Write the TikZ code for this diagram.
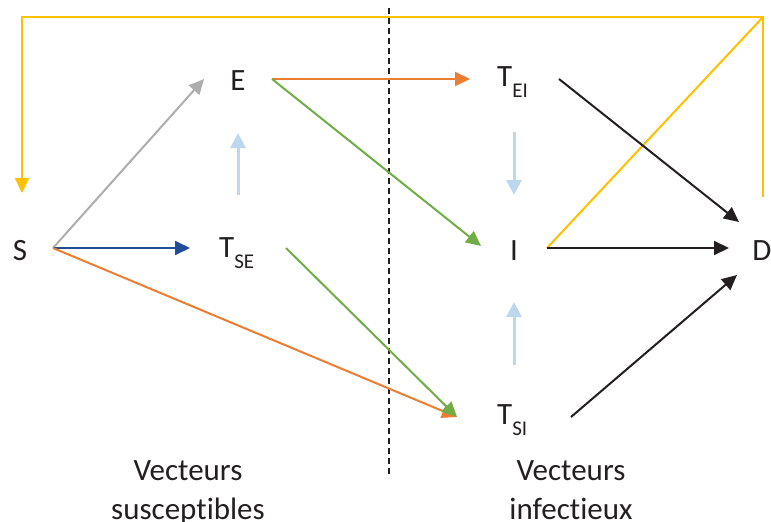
\documentclass[tikz,border=0pt]{standalone}
\usepackage{fontspec}
\setmainfont{Carlito}[Ligatures=NoCommon]
\usetikzlibrary{arrows.meta}
\definecolor{cyellow}{HTML}{FFC000}
\definecolor{corange}{HTML}{ED7D31}
\definecolor{cgreen}{HTML}{70AD47}
\definecolor{cgray}{HTML}{ADADAD}
\definecolor{cblue}{HTML}{1F4E96}
\definecolor{clight}{HTML}{BDD7EE}
\definecolor{cblack}{HTML}{231F20}
\newcommand\subtxt[1]{\raisebox{-11pt}{\fontsize{21}{21}\selectfont #1}}
\begin{document}
\begin{tikzpicture}[x=1pt,y=-1pt,
  lbl/.style={font=\fontsize{31}{39}\selectfont, inner sep=0pt, text=cblack},
  conn/.style={line width=2pt, -{Triangle[length=15pt,width=14pt]}},
  lightarrow/.style={line width=3pt, draw=clight, -{Triangle[length=15pt,width=15pt]}},
  divider/.style={line width=1.5pt, draw=cblack, dash pattern=on 6pt off 4pt}]
\useasboundingbox (0,0) rectangle (771,522);

% nodes
\node[lbl, anchor=base] (S) at (20,260) {S};
\node[lbl, anchor=base] (E) at (238,90) {E};
\node[lbl, anchor=base west] (TSE) at (219,257) {T\subtxt{SE}};
\node[lbl, anchor=base west] (TEI) at (497,86) {T\subtxt{EI}};
\node[lbl, anchor=base] (I) at (514,260) {I};
\node[lbl, anchor=base] (D) at (762,260) {D};
\node[lbl, anchor=base west] (TSI) at (497,424) {T\subtxt{SI}};
\node[lbl, anchor=base, align=center] (VS) at (188,519) {Vecteurs\\susceptibles};
\node[lbl, anchor=base, align=center] (VI) at (571,519) {Vecteurs\\infectieux};

% connector end points
\coordinate (S-out) at (53,248);
\coordinate (S-in) at (22,193);
\coordinate (E-in) at (204,79);
\coordinate (E-out) at (272,79);
\coordinate (E-low) at (238,195);
\coordinate (E-bot) at (238,133);
\coordinate (TSE-in) at (190,248);
\coordinate (TSE-out) at (286,248);
\coordinate (TEI-in) at (470,79);
\coordinate (TEI-out) at (559,79);
\coordinate (TEI-bot) at (514,132);
\coordinate (I-top) at (514,195);
\coordinate (I-in) at (481,246);
\coordinate (I-out) at (547,248);
\coordinate (I-bot) at (514,302);
\coordinate (TSI-top) at (514,365);
\coordinate (TSI-in) at (457,417);
\coordinate (TSI-out) at (571,417);
\coordinate (D-in1) at (739,222);
\coordinate (D-in2) at (729,248);
\coordinate (D-in3) at (737,275);
\coordinate (D-out) at (763,197);
\coordinate (corner) at (763,17);
\coordinate (cornerL) at (22,17);
\coordinate (divtop) at (389,8);
\coordinate (divbot) at (389,478);

% divider
\draw[divider] (divtop) -- (divbot);

% yellow loop
\draw[conn, draw=cyellow] (D-out) -- (corner) -- (cornerL) -- (S-in);
\draw[line width=2pt, draw=cyellow] (I-out) -- (corner);

% from S
\draw[conn, draw=cgray] (S-out) -- (E-in);
\draw[conn, draw=cblue] (S-out) -- (TSE-in);
\draw[conn, draw=corange] (S-out) -- (TSI-in);

% from E
\draw[conn, draw=corange] (E-out) -- (TEI-in);
\draw[conn, draw=cgreen] (E-out) -- (I-in);

% from T_SE
\draw[conn, draw=cgreen] (TSE-out) -- (TSI-in);

% light blue
\draw[lightarrow] (E-low) -- (E-bot);
\draw[lightarrow] (TEI-bot) -- (I-top);
\draw[lightarrow] (TSI-top) -- (I-bot);

% to D
\draw[conn, draw=cblack] (TEI-out) -- (D-in1);
\draw[conn, draw=cblack] (I-out) -- (D-in2);
\draw[conn, draw=cblack] (TSI-out) -- (D-in3);
\end{tikzpicture}
\end{document}
